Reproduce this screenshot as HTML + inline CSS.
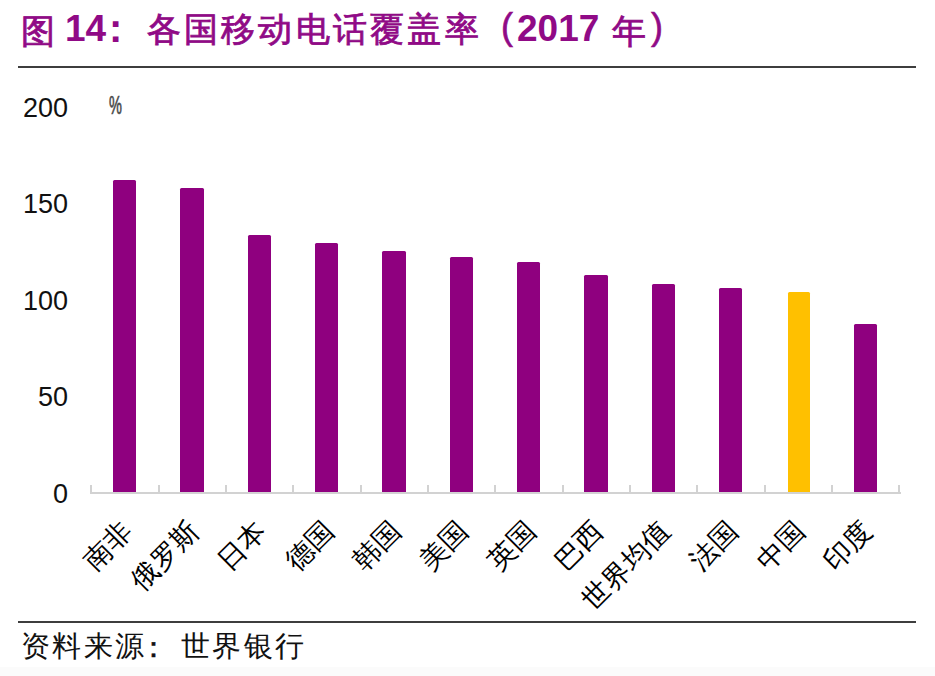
<!DOCTYPE html>
<html><head><meta charset="utf-8">
<style>
html,body{margin:0;padding:0;}
body{width:935px;height:676px;position:relative;overflow:hidden;background:#fff;font-family:"Liberation Sans",sans-serif;}
.t{position:absolute;white-space:nowrap;color:#900A86;line-height:1;}
.cj{font-size:34px;-webkit-text-stroke:0.8px #900A86;}
.pa{font-size:36px;-webkit-text-stroke:0.6px #900A86;}
.dg{font-size:37px;font-weight:bold;}
.rule{position:absolute;left:18px;width:898px;height:2px;background:#3E3E3E;}
.ylab{position:absolute;right:867px;font-size:27px;color:#111;line-height:1;}
.bar{position:absolute;border-radius:1.5px 1.5px 0 0;}
.axis{position:absolute;left:90px;width:811px;top:492px;height:2px;background:#D2D2D2;}
.tick{position:absolute;top:485px;width:2px;height:8px;background:#D2D2D2;}
.lab{position:absolute;width:0;height:0;}
.lab span{position:absolute;right:0;top:0;font-size:27.5px;line-height:1;white-space:nowrap;transform-origin:100% 0;transform:rotate(-45deg);color:#000;}
.foot{position:absolute;left:21px;top:632px;font-size:29px;letter-spacing:2.4px;line-height:1;color:#111;white-space:nowrap;}
.band{position:absolute;left:0;top:667px;width:935px;height:9px;background:#FBFBFB;}
</style></head><body>
<div class="t cj" style="left:20.5px;top:14px">图</div>
<div class="t dg" style="left:65px;top:10px">14</div>
<div class="t dg" style="left:109px;top:8px;font-size:40px">:</div>
<div class="t cj" style="left:146.5px;top:12px;letter-spacing:3.25px">各国移动电话覆盖率</div>
<div class="t pa" style="left:501px;top:9px">(</div>
<div class="t dg" style="left:517px;top:10px">2017</div>
<div class="t cj" style="left:612px;top:14px">年</div>
<div class="t pa" style="left:651px;top:9px">)</div>
<div class="rule" style="top:66.4px"></div>
<div class="ylab" style="top:95px">200</div>
<div class="ylab" style="top:191px">150</div>
<div class="ylab" style="top:288px">100</div>
<div class="ylab" style="top:384px">50</div>
<div class="ylab" style="top:481px">0</div>
<div class="t" style="left:108.5px;top:93px;font-size:25px;color:#4A4A4A;transform:scaleX(0.58);transform-origin:0 0;-webkit-text-stroke:0.7px #4A4A4A">%</div>
<div class="axis"></div>
<div class="tick" style="left:90.4px"></div>
<div class="tick" style="left:157.7px"></div>
<div class="tick" style="left:225.1px"></div>
<div class="tick" style="left:292.4px"></div>
<div class="tick" style="left:359.7px"></div>
<div class="tick" style="left:427.0px"></div>
<div class="tick" style="left:494.4px"></div>
<div class="tick" style="left:561.7px"></div>
<div class="tick" style="left:629.0px"></div>
<div class="tick" style="left:696.4px"></div>
<div class="tick" style="left:763.7px"></div>
<div class="tick" style="left:831.0px"></div>
<div class="tick" style="left:898.4px"></div>

<div class="bar" style="left:112.91px;top:179.6px;width:23.5px;height:312.4px;background:#8F007F"></div>
<div class="bar" style="left:180.25px;top:187.6px;width:23.5px;height:304.4px;background:#8F007F"></div>
<div class="bar" style="left:247.57px;top:234.8px;width:23.5px;height:257.2px;background:#8F007F"></div>
<div class="bar" style="left:314.90px;top:243.2px;width:23.5px;height:248.8px;background:#8F007F"></div>
<div class="bar" style="left:382.24px;top:251.4px;width:23.5px;height:240.6px;background:#8F007F"></div>
<div class="bar" style="left:449.56px;top:256.6px;width:23.5px;height:235.4px;background:#8F007F"></div>
<div class="bar" style="left:516.89px;top:261.6px;width:23.5px;height:230.4px;background:#8F007F"></div>
<div class="bar" style="left:584.22px;top:274.5px;width:23.5px;height:217.5px;background:#8F007F"></div>
<div class="bar" style="left:651.55px;top:283.8px;width:23.5px;height:208.2px;background:#8F007F"></div>
<div class="bar" style="left:718.88px;top:287.6px;width:23.5px;height:204.4px;background:#8F007F"></div>
<div class="bar" style="left:787.50px;top:291.6px;width:22px;height:200.4px;background:#FFC000"></div>
<div class="bar" style="left:853.54px;top:324.4px;width:23.5px;height:167.6px;background:#8F007F"></div>

<div class="lab" style="left:117.7px;top:515.7px"><span>南非</span></div>
<div class="lab" style="left:185.0px;top:515.7px"><span>俄罗斯</span></div>
<div class="lab" style="left:252.3px;top:515.7px"><span>日本</span></div>
<div class="lab" style="left:319.7px;top:515.7px"><span>德国</span></div>
<div class="lab" style="left:387.0px;top:515.7px"><span>韩国</span></div>
<div class="lab" style="left:454.3px;top:515.7px"><span>美国</span></div>
<div class="lab" style="left:521.6px;top:515.7px"><span>英国</span></div>
<div class="lab" style="left:589.0px;top:515.7px"><span>巴西</span></div>
<div class="lab" style="left:656.3px;top:515.7px"><span>世界均值</span></div>
<div class="lab" style="left:723.6px;top:515.7px"><span>法国</span></div>
<div class="lab" style="left:791.0px;top:515.7px"><span>中国</span></div>
<div class="lab" style="left:858.3px;top:515.7px"><span>印度</span></div>

<div class="rule" style="top:621.2px"></div>
<div class="foot">资料来源</div>
<div class="foot" style="left:138.5px;top:633px;-webkit-text-stroke:0.5px #111">：</div>
<div class="foot" style="left:181px">世界银行</div>
<div class="band"></div>
</body></html>
